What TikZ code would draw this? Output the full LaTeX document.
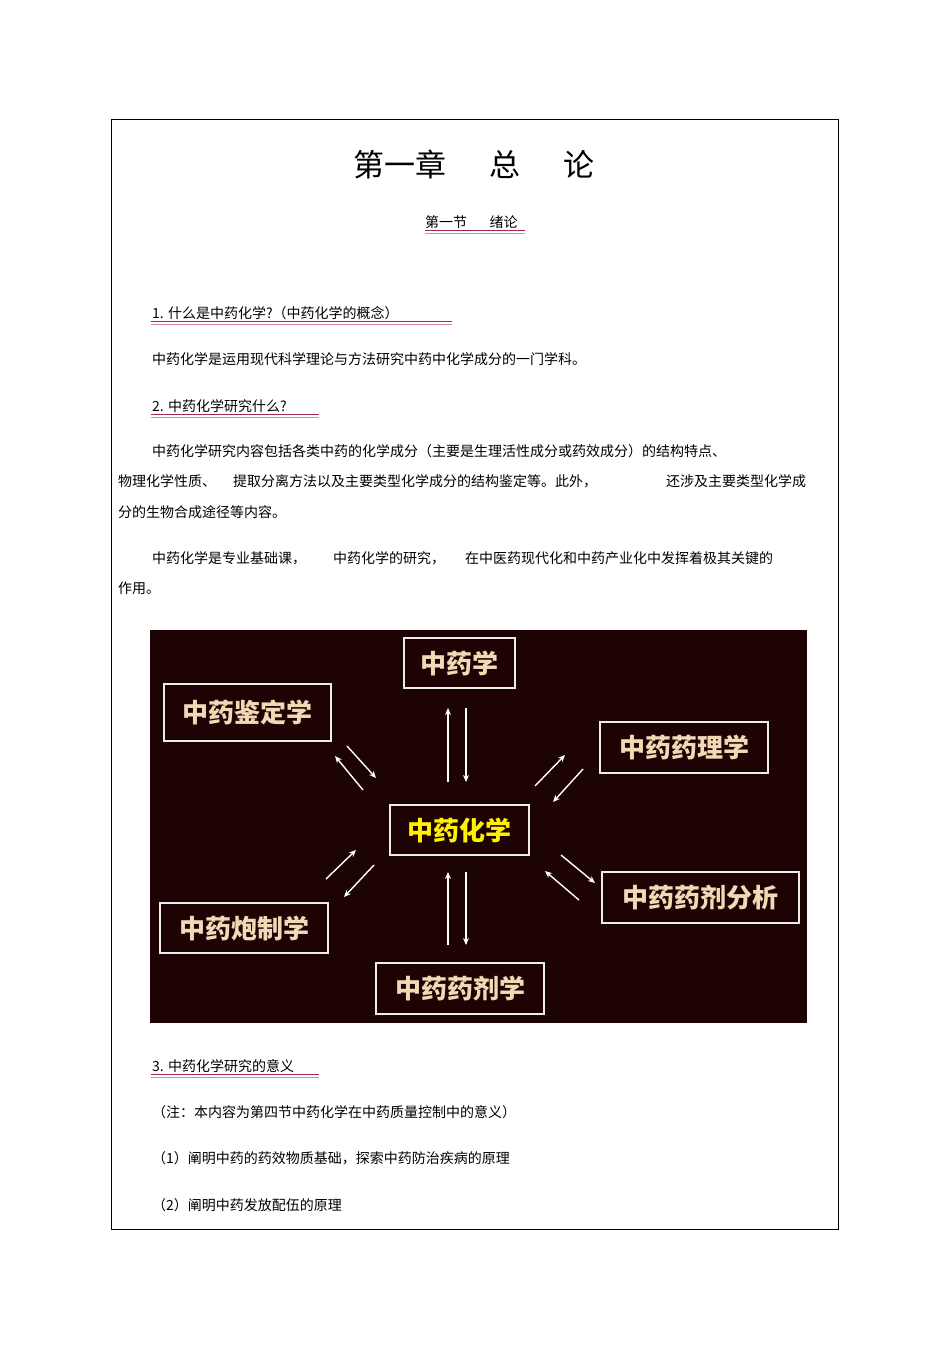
\documentclass[tikz,border=0pt]{standalone}
\usepackage{fontspec}
\setmainfont{Noto Sans CJK SC}
\newfontfamily\cjkb[BoldFont={* Bold}]{Noto Sans CJK SC}
\usetikzlibrary{arrows.meta}
\definecolor{bgd}{HTML}{1E0304}
\definecolor{beige}{HTML}{F2D9B6}
\definecolor{ulA}{HTML}{A52A4A}
\definecolor{ulB}{HTML}{E0899C}
\tikzset{
 body/.style={anchor=base west,inner sep=0,font=\fontsize{14}{14}\selectfont},
 box/.style={draw=white!85!gray,line width=1.6pt,inner sep=0,font=\fontsize{26}{26}\selectfont\bfseries,text=beige},
 arr/.style={white,line width=1.4pt,-{Stealth[length=7pt,width=6pt]}},
 ul/.style={line width=1pt}
}
\begin{document}
\begin{tikzpicture}[x=1pt,y=-1pt]
\useasboundingbox (0,0) rectangle (950,1345);
\fill[white] (0,0) rectangle (950,1345);
\draw[line width=0.8pt] (111,119) rectangle (838,1229);
\node[anchor=base,inner sep=0,font=\fontsize{31}{31}\selectfont] (title) at (474,176) {第一章\hspace{1.4em}总\hspace{1.4em}论};
\node[body] (sec) at (425,227) {第一节\hspace{1.6em}绪论};
\draw[ul,ulA] (425,230)--(525,230); \draw[ul,ulB] (425,233)--(525,233);
\node[body] (h1) at (152,318) {1. 什么是中药化学?（中药化学的概念）};
\draw[ul,ulA] (151,321)--(452,321); \draw[ul,ulB] (151,324)--(452,324);
\node[body] (p1) at (152,364) {中药化学是运用现代科学理论与方法研究中药中化学成分的一门学科。};
\node[body] (h2) at (152,411) {2. 中药化学研究什么?};
\draw[ul,ulA] (151,414)--(319,414); \draw[ul,ulB] (151,417)--(319,417);
\node[body] (p2a) at (152,456) {中药化学研究内容包括各类中药的化学成分（主要是生理活性成分或药效成分）的结构特点、};
\node[body] (p2b) at (118,486) {物理化学性质、};
\node[body] (p2c) at (233,486) {提取分离方法以及主要类型化学成分的结构鉴定等。此外，};
\node[body] (p2d) at (666,486) {还涉及主要类型化学成};
\node[body] (p2e) at (118,517) {分的生物合成途径等内容。};
\node[body] (p3a) at (152,563) {中药化学是专业基础课，};
\node[body] (p3b) at (333,563) {中药化学的研究，};
\node[body] (p3c) at (465,563) {在中医药现代化和中药产业化中发挥着极其关键的};
\node[body] (p3d) at (118,593) {作用。};
% diagram
\fill[bgd] (150,630) rectangle (807,1023);
\node[box,minimum width=111,minimum height=50] (zy) at (459.5,663) {中药学};
\node[box,minimum width=167,minimum height=57] (jd) at (247.5,712.5) {中药鉴定学};
\node[box,minimum width=168,minimum height=51] (yl) at (684,747.5) {中药药理学};
\node[box,minimum width=139,minimum height=50,text=yellow] (hx) at (459.5,830) {中药化学};
\node[box,minimum width=197,minimum height=51] (fx) at (700.5,897.5) {中药药剂分析};
\node[box,minimum width=168,minimum height=50] (pz) at (244,928) {中药炮制学};
\node[box,minimum width=168,minimum height=51] (yj) at (460,988.5) {中药药剂学};
\coordinate (a1) at (448,782); \coordinate (a2) at (448,708);
\coordinate (b1) at (466,708); \coordinate (b2) at (466,782);
\draw[arr] (a1)--(a2); \draw[arr] (b1)--(b2);
\coordinate (c1) at (448,945); \coordinate (c2) at (448,872);
\coordinate (d1) at (466,872); \coordinate (d2) at (466,945);
\draw[arr] (c1)--(c2); \draw[arr] (d1)--(d2);
\coordinate (e1) at (363,790); \coordinate (e2) at (335,756);
\coordinate (f1) at (347,746); \coordinate (f2) at (376,778);
\draw[arr] (e1)--(e2); \draw[arr] (f1)--(f2);
\coordinate (g1) at (535,786); \coordinate (g2) at (565,755);
\coordinate (h1c) at (583,769); \coordinate (h2c) at (553,802);
\draw[arr] (g1)--(g2); \draw[arr] (h1c)--(h2c);
\coordinate (i1) at (326,879); \coordinate (i2) at (356,850);
\coordinate (j1) at (374,865); \coordinate (j2) at (344,897);
\draw[arr] (i1)--(i2); \draw[arr] (j1)--(j2);
\coordinate (k1) at (561,855); \coordinate (k2) at (595,883);
\coordinate (l1) at (579,900); \coordinate (l2) at (545,871);
\draw[arr] (k1)--(k2); \draw[arr] (l1)--(l2);
\node[body] (h3) at (152,1071) {3. 中药化学研究的意义};
\draw[ul,ulA] (151,1074)--(319,1074); \draw[ul,ulB] (151,1077)--(319,1077);
\node[body] (n1) at (152,1117) {（注：本内容为第四节中药化学在中药质量控制中的意义）};
\node[body] (n2) at (152,1163) {（1）阐明中药的药效物质基础，探索中药防治疾病的原理};
\node[body] (n3) at (152,1210) {（2）阐明中药发放配伍的原理};
\end{tikzpicture}
\end{document}
